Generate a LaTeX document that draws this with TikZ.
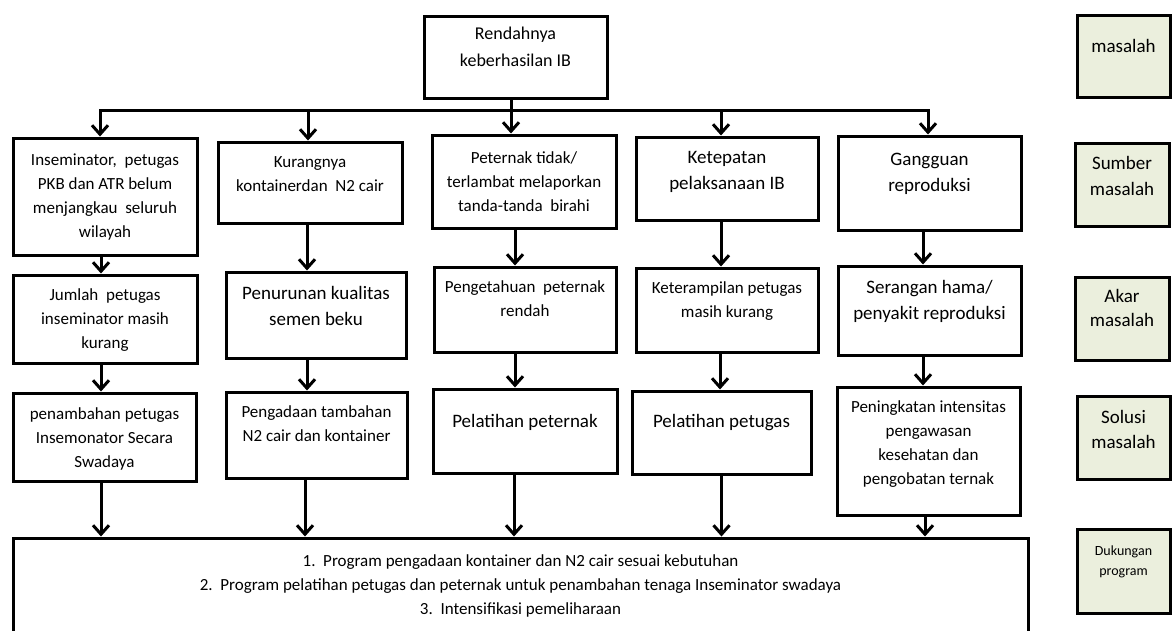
\documentclass[tikz,border=0pt]{standalone}
\usepackage{fontspec}
\setmainfont{Carlito}
\usepackage{tikz}
\usetikzlibrary{arrows.meta}
\definecolor{legendfill}{HTML}{EBEFDD}
\newcommand{\fnormal}{\fontsize{17}{24}\selectfont}
\newcommand{\flarge}{\fontsize{19}{26}\selectfont}
\newcommand{\fsmall}{\fontsize{14}{20}\selectfont}
\tikzset{
  box/.style={draw, line width=3pt, fill=white, inner sep=0pt},
  legendbox/.style={box, fill=legendfill},
  lbl/.style={align=center, font=\fnormal, inner sep=0pt},
  lbllarge/.style={lbl, font=\flarge},
  arrow/.style={line width=3pt, -{Straight Barb[length=9pt,width=16pt]}},
  busline/.style={line width=3pt, line cap=rect}
}

\begin{document}
\begin{tikzpicture}[x=1pt, y=-1pt]
\useasboundingbox (0,0) rectangle (1172,630);

% masalah utama
\node[box, minimum width=183pt, minimum height=82pt] (top) at (515.5,57) {};
\node[lbl, font=\fontsize{18}{27}\selectfont] (topt) at (515.5,47) {Rendahnya\\keberhasilan IB};

% sumber masalah
\node[box, minimum width=184pt, minimum height=117pt] (b1) at (105,196.5) {};
\node[box, minimum width=184pt, minimum height=81pt] (b2) at (310,182.5) {};
\node[box, minimum width=184pt, minimum height=93pt] (b3) at (524,181.5) {};
\node[box, minimum width=182pt, minimum height=83pt] (b4) at (727,178.5) {};
\node[box, minimum width=183pt, minimum height=94pt] (b5) at (929.5,183) {};
\node[lbl] (b1t) at (105,197) {Inseminator,\ \ petugas\\PKB dan ATR belum\\menjangkau\ \ seluruh\\wilayah};
\node[lbl] (b2t) at (310,174) {Kurangnya\\kontainerdan\ \ N2 cair};
\node[lbl] (b3t) at (524,182) {Peternak tidak/\\terlambat melaporkan\\tanda-tanda\ \ birahi};
\node[lbllarge] (b4t) at (727,171.5) {Ketepatan\\pelaksanaan IB};
\node[lbllarge] (b5t) at (929.5,173.5) {Gangguan\\reproduksi};

% akar masalah
\node[box, minimum width=184pt, minimum height=88pt] (c1) at (105,319) {};
\node[box, minimum width=180pt, minimum height=86pt] (c2) at (316,315) {};
\node[box, minimum width=182pt, minimum height=85pt] (c3) at (525,309.5) {};
\node[box, minimum width=182pt, minimum height=84pt] (c4) at (727,310) {};
\node[box, minimum width=183pt, minimum height=89pt] (c5) at (929.5,310.5) {};
\node[lbl] (c1t) at (105,320) {Jumlah\ \ petugas\\inseminator masih\\kurang};
\node[lbllarge] (c2t) at (316,306) {Penurunan kualitas\\semen beku};
\node[lbl] (c3t) at (525,299) {Pengetahuan\ \ peternak\\rendah};
\node[lbl] (c4t) at (727,301) {Keterampilan petugas\\masih kurang};
\node[lbllarge] (c5t) at (929.5,301.5) {Serangan hama/\\penyakit reproduksi};

% solusi masalah
\node[box, minimum width=183pt, minimum height=88pt] (d1) at (104.5,437) {};
\node[box, minimum width=181pt, minimum height=86pt] (d2) at (316.5,435) {};
\node[box, minimum width=184pt, minimum height=84pt] (d3) at (525,431) {};
\node[box, minimum width=179pt, minimum height=83pt] (d4) at (721.5,432.5) {};
\node[box, minimum width=183pt, minimum height=128pt] (d5) at (928.5,451) {};
\node[lbl] (d1t) at (104.5,439) {penambahan petugas\\Insemonator Secara\\Swadaya};
\node[lbl] (d2t) at (316.5,424) {Pengadaan tambahan\\N2 cair dan kontainer};
\node[lbllarge] (d3t) at (525,422) {Pelatihan peternak};
\node[lbllarge] (d4t) at (721.5,423) {Pelatihan petugas};
\node[lbl] (d5t) at (928.5,444) {Peningkatan intensitas\\pengawasan\\kesehatan dan\\pengobatan ternak};

% dukungan program
\node[box, minimum width=1015pt, minimum height=107pt] (prog) at (520.5,591.5) {};
\node[lbl] (progt) at (520.5,586) {1.\ \ Program pengadaan kontainer dan N2 cair sesuai kebutuhan\\
  2.\ \ Program pelatihan petugas dan peternak untuk penambahan tenaga Inseminator swadaya\\
  3.\ \ Intensifikasi pemeliharaan};

% keterangan
\node[legendbox, minimum width=93pt, minimum height=82pt] (l1) at (1123.5,56) {};
\node[legendbox, minimum width=94pt, minimum height=83pt] (l2) at (1122,184.5) {};
\node[legendbox, minimum width=94pt, minimum height=83pt] (l3) at (1122,318.5) {};
\node[legendbox, minimum width=93pt, minimum height=83pt] (l4) at (1123.5,437.5) {};
\node[legendbox, minimum width=93pt, minimum height=84pt] (l5) at (1123.5,571) {};
\node[lbllarge] (l1t) at (1123.5,46) {masalah};
\node[lbllarge] (l2t) at (1122,175.5) {Sumber\\masalah};
\node[lbllarge, font=\fontsize{19}{24}\selectfont] (l3t) at (1122,308) {Akar\\masalah};
\node[lbllarge, font=\fontsize{19}{25}\selectfont] (l4t) at (1123.5,429.5) {Solusi\\masalah};
\node[lbl, font=\fsmall] (l5t) at (1123.5,562) {Dukungan\\program};

% garis cabang
\coordinate (bus1) at (100,110);
\coordinate (bus2) at (308,110);
\coordinate (bus3) at (511,110);
\coordinate (bus4) at (721,110);
\coordinate (bus5) at (928,110);
\draw[busline] (bus1) -- (bus5);
\draw[busline] (top.south -| bus3) -- (bus3);
\foreach \i in {1,...,5}
  \draw[arrow] (bus\i) -- (bus\i |- b\i.north);

% panah antar baris
\foreach \i/\s in {1/-4, 2/-3, 3/-9, 4/-6, 5/-6.5}
  \draw[arrow] ([xshift=\s pt]b\i.south) -- ([xshift=\s pt]b\i.south |- c\i.north);
\foreach \i/\s in {1/-4, 2/-9, 3/-10, 4/-7, 5/-6.5}
  \draw[arrow] ([xshift=\s pt]c\i.south) -- ([xshift=\s pt]c\i.south |- d\i.north);
\foreach \i/\s in {1/-3.5, 2/-11.5, 3/-11, 4/0, 5/-3.5}
  \draw[arrow] ([xshift=\s pt]d\i.south) -- ([xshift=\s pt]d\i.south |- prog.north);
\end{tikzpicture}
\end{document}
